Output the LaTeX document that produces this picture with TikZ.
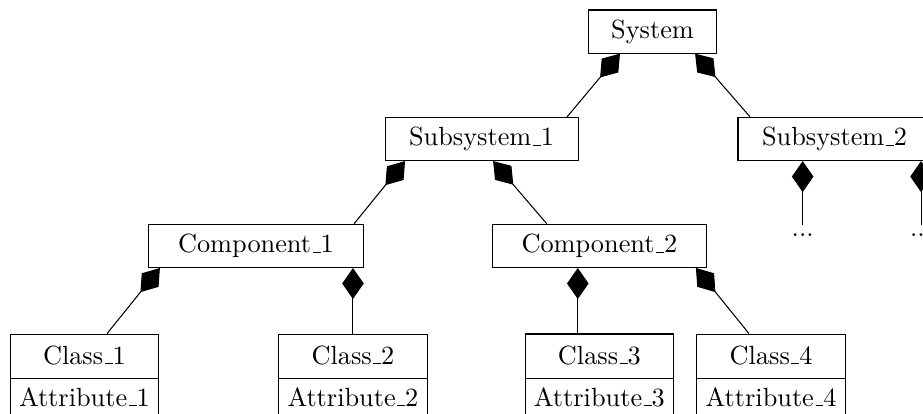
\documentclass[tikz,border=0pt]{standalone}
\usepackage{tikz}
\usetikzlibrary{shapes,shapes.multipart,arrows.meta}
\newcommand{\usc}{\leavevmode\kern.06em\vbox{\hrule width.3em}}
\tikzstyle{compo} = [draw, {Diamond[length=11.8pt, width=8.2pt]}-]
\tikzstyle{unit} = [rectangle, draw, fill=white, minimum height=16.4pt, inner xsep=0pt, text centered]
\tikzstyle{sysbox} = [unit, minimum width=49pt]
\tikzstyle{subbox} = [unit, minimum width=73.4pt]
\tikzstyle{compbox} = [unit, minimum width=81.6pt]
\tikzstyle{cls} = [rectangle split, rectangle split parts=2, draw, text height=8pt, text depth=1.7pt, node distance=49.1pt]
\tikzstyle{more} = [node distance=36.7pt]

\begin{document}
\begin{tikzpicture}
		\path [use as bounding box, clip] (0,0) rectangle (350.95pt,-157.41pt);
		
		\node [sysbox] (sys) at (248.1pt,-12pt) {System};
		
		\node [subbox, below of = sys, node distance = 40.85pt, xshift=-65pt] (sub1) {Subsystem\usc 1};
		\node [subbox, below of = sys, node distance = 40.85pt, xshift=69.2pt] (sub2) {Subsystem\usc 2};
		
		\node [compbox, below of = sub1, node distance = 40.65pt, xshift=-85.8pt] (comp1) {Component\usc 1};
		\node [compbox, below of = sub1, node distance = 40.65pt, xshift=44.8pt] (comp2) {Component\usc 2};
		
		\node [more, below of = sub2, xshift=-12.1pt] (dots1) {...};
		\node [more, below of = sub2, xshift=32.9pt] (dots2) {...};
		
		\node [cls, below of = comp1, xshift=-65.2pt] (cls1) {Class\usc 1 \nodepart{two} Attribute\usc 1};
		\node [cls, below of = comp1, xshift=36.9pt] (cls2) {Class\usc 2 \nodepart{two} Attribute\usc 2};
		\node [cls, below of = comp2] (cls3) {Class\usc 3 \nodepart{two} Attribute\usc 3};
		\node [cls, below of = comp2, xshift=65.3pt] (cls4) {Class\usc 4 \nodepart{two} Attribute\usc 4};
		
		\path [compo] ([xshift=-12.36pt]sys.south) to ([xshift=32.5pt]sub1.north);
		\path [compo] ([xshift=16.2pt]sys.south) to ([xshift=-32.1pt]sub2.north);
		
		\path [compo] ([xshift=-29.1pt]sub1.south) to ([xshift=37.3pt]comp1.north);
		\path [compo] ([xshift=4.4pt]sub1.south) to ([xshift=-20pt]comp2.north);
		
		\path [compo] (dots1.north |- sub2.south) to (dots1.north);
		\path [compo] (dots2.north |- sub2.south) to (dots2.north);
		
		\path [compo] ([xshift=-36.5pt]comp1.south) to ([xshift=8.6pt]cls1.north);
		\path [compo] (cls2.north |- comp1.south) to (cls2.north);
		\path [compo] ([xshift=-8.2pt]comp2.south) to ([xshift=-8.2pt]cls3.north);
		\path [compo] ([xshift=36.7pt]comp2.south) to ([xshift=-8.4pt]cls4.north);
		\end{tikzpicture}
\end{document}
